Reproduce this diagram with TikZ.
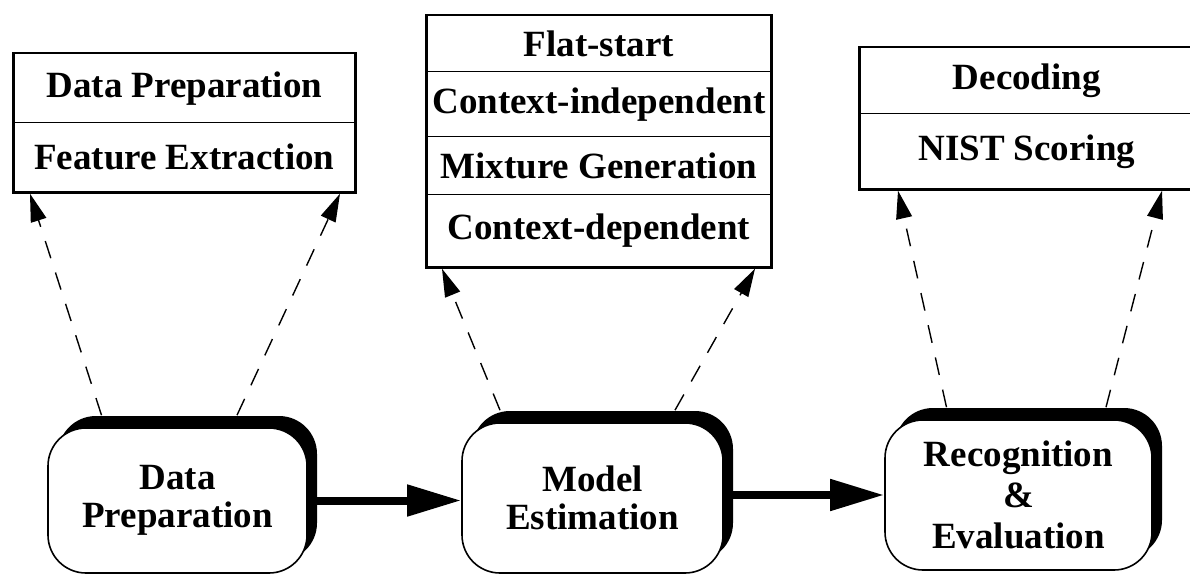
\documentclass[tikz,border=0pt]{standalone}
\usepackage{fontspec}
\setmainfont{Liberation Serif}
\usetikzlibrary{matrix,arrows.meta,shadows}

\newcommand{\bigbold}{\fontsize{37}{38}\selectfont\bfseries}
\newcommand{\bigboldwide}{\fontsize{37}{41}\selectfont\bfseries}

\tikzset{
  stage/.style={draw, line width=1.6pt, fill=white, rounded corners=38pt,
    align=center, font=\bigbold, inner sep=0pt,
    drop shadow={shadow xshift=10pt, shadow yshift=12pt, fill=black, opacity=1}},
  substeps/.style={matrix of nodes, draw, line width=2.5pt, inner sep=0pt,
    anchor=north west, row sep=-1.2pt,
    nodes={draw, line width=1.2pt, inner sep=0pt, font=\bigbold}},
  flow/.style={line width=8pt, -{Triangle[length=54pt,width=30pt]}},
  refine/.style={line width=1.4pt, dash pattern=on 18pt off 15pt,
    -{Triangle[length=28pt,width=16pt]}},
}

\begin{document}
\begin{tikzpicture}[x=1pt, y=1pt]
\useasboundingbox (0,0) rectangle (1190,574);

% stages
\node[stage, minimum width=259pt, minimum height=145pt] (prep) at (177.5,73.5) {Data\\Preparation};
\node[stage, minimum width=261pt, minimum height=150pt] (model) at (592.5,76) {Model\\Estimation};
\node[stage, minimum width=267pt, minimum height=150pt, font=\bigboldwide] (eval) at (1018.5,79) {Recognition\\\&\\Evaluation};

% sub steps
\matrix (prepsteps) [substeps, nodes={minimum width=341pt},
    row 1/.style={nodes={minimum height=69pt}},
    row 2/.style={nodes={minimum height=69pt}},
    ] at (12,522) {
    Data Preparation\\
    Feature Extraction\\};

\matrix (modelsteps) [substeps, nodes={minimum width=344pt},
    row 1/.style={nodes={minimum height=56pt}},
    row 2/.style={nodes={minimum height=65pt}},
    row 3/.style={nodes={minimum height=58pt}},
    row 4/.style={nodes={minimum height=72pt}},
    ] at (425,560) {
    Flat-start\\
    Context-independent\\
    Mixture Generation\\
    Context-dependent\\};

\matrix (evalsteps) [substeps, nodes={minimum width=334pt},
    row 1/.style={nodes={minimum height=66pt}},
    row 2/.style={nodes={minimum height=75pt}},
    ] at (858,528) {
    Decoding\\
    NIST Scoring\\};

% stage to stage
\draw[flow] (prep.east) -- (prep.east -| model.west);
\draw[flow] (eval.west -| model.east) -- (eval.west);

% stage to its sub steps
\foreach \stage/\sx/\steps/\tx in {prep/-76/prepsteps/18, prep/59.5/prepsteps/328,
    model/-92.5/modelsteps/17, model/82.5/modelsteps/330,
    eval/-72/evalsteps/40, eval/87.5/evalsteps/304}
    \draw[refine] ([xshift=\sx pt, yshift=12pt]\stage.north) -- ([xshift=\tx pt]\steps.south west);

\end{tikzpicture}
\end{document}
